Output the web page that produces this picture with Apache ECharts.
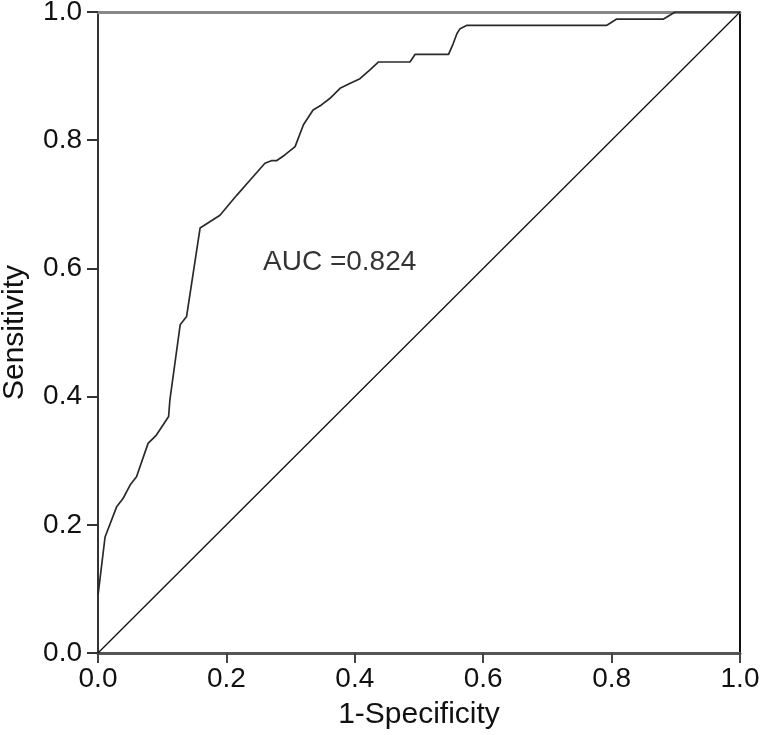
<!DOCTYPE html>
<html><head><meta charset="utf-8">
<script src="https://cdn.jsdelivr.net/npm/echarts@6/dist/echarts.min.js"></script>
<style>html,body{margin:0;padding:0;background:#fff}#c{width:764px;height:735px}</style>
</head><body><div id="c"></div>
<script>
const rocX = [0, 0.011, 0.029, 0.039, 0.05, 0.06, 0.078, 0.091, 0.110, 0.112, 0.128, 0.138, 0.159, 0.190, 0.216, 0.237, 0.260, 0.270, 0.278, 0.291, 0.307, 0.320, 0.335, 0.348, 0.361, 0.377, 0.393, 0.408, 0.424, 0.437, 0.486, 0.494, 0.546, 0.553, 0.559, 0.564, 0.574, 0.792, 0.808, 0.881, 0.899, 1.0];
const rocY = [0.09, 0.181, 0.228, 0.241, 0.262, 0.275, 0.327, 0.340, 0.369, 0.395, 0.512, 0.525, 0.663, 0.683, 0.714, 0.738, 0.764, 0.768, 0.768, 0.777, 0.790, 0.824, 0.847, 0.855, 0.865, 0.881, 0.889, 0.896, 0.910, 0.922, 0.922, 0.934, 0.934, 0.950, 0.966, 0.974, 0.979, 0.979, 0.989, 0.989, 1.0, 1.0];
const refX = [0, 1];
const refY = [0, 1];
const tickLabels = ['0.0', '0.2', '0.4', '0.6', '0.8', '1.0'];
const aucText = 'AUC =0.824';
const aucPos = [0.257, 0.61];

const chart = echarts.init(document.getElementById('c'), null, {renderer: 'canvas'});
const font = 'Liberation Sans';
const fmt = v => tickLabels[Math.round(v / 0.2)];
chart.setOption({
  animation: false,
  grid: {left: 98, right: 24, top: 12, bottom: 82, containLabel: false, outerBoundsMode: 'none'},
  xAxis: [{
    type: 'value', min: 0, max: 1, interval: 0.2,
    name: '1-Specificity', nameLocation: 'middle', nameGap: 47,
    nameTextStyle: {fontFamily: font, fontSize: 30, color: '#111'},
    axisLine: {onZero: false, lineStyle: {color: '#555', width: 3}},
    axisTick: {show: true, length: 10, lineStyle: {color: '#444', width: 2}},
    axisLabel: {formatter: fmt, fontFamily: font, fontSize: 28, color: '#111', margin: 12},
    splitLine: {show: false}
  }, {
    type: 'value', min: 0, max: 1, position: 'top',
    axisLine: {show: true, onZero: false, lineStyle: {color: '#888', width: 3}},
    axisTick: {show: false}, axisLabel: {show: false}, splitLine: {show: false}
  }],
  yAxis: [{
    type: 'value', min: 0, max: 1, interval: 0.2,
    name: 'Sensitivity', nameLocation: 'middle', nameGap: 68, nameRotate: 90,
    nameTextStyle: {fontFamily: font, fontSize: 30, color: '#111'},
    axisLine: {show: true, onZero: false, lineStyle: {color: '#333', width: 2}},
    axisTick: {show: true, length: 11, lineStyle: {color: '#333', width: 2}},
    axisLabel: {formatter: fmt, fontFamily: font, fontSize: 28, color: '#111', margin: 16},
    splitLine: {show: false}
  }, {
    type: 'value', min: 0, max: 1, position: 'right',
    axisLine: {show: true, onZero: false, lineStyle: {color: '#111', width: 2}},
    axisTick: {show: false}, axisLabel: {show: false}, splitLine: {show: false}
  }],
  series: [{
    type: 'line', xAxisIndex: 1, yAxisIndex: 1,
    data: refX.map((x, i) => [x, refY[i]]), symbol: 'none',
    lineStyle: {color: '#111', width: 1.3}, silent: true
  }, {
    type: 'line', data: rocX.map((x, i) => [x, rocY[i]]), symbol: 'none',
    lineStyle: {color: '#2a2a2a', width: 1.7}, silent: true, z: 3
  }, {
    type: 'scatter', data: [aucPos], symbolSize: 0, silent: true,
    label: {show: true, position: 'right', distance: 0, formatter: aucText,
      fontFamily: font, fontSize: 28, color: '#000'}
  }]
});
</script></body></html>
